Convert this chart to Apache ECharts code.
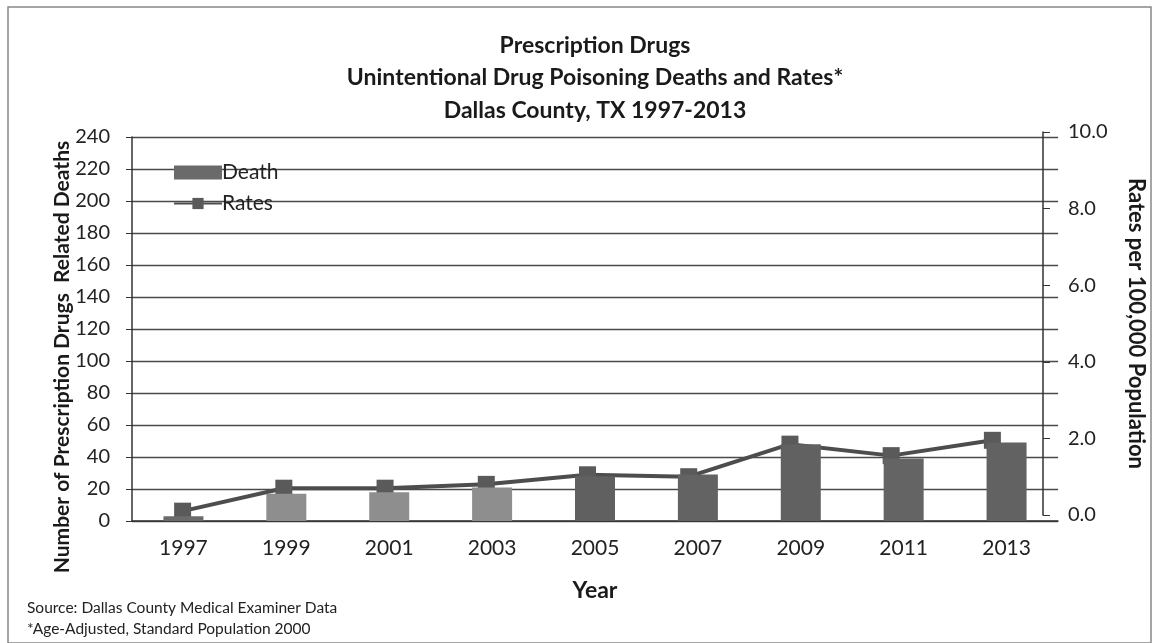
<!DOCTYPE html>
<html>
<head>
<meta charset="utf-8">
<script src="https://cdn.jsdelivr.net/npm/echarts@6/dist/echarts.min.js"></script>
<style>
  html, body { margin: 0; padding: 0; background: #fff; }
  #main { width: 1155px; height: 643px; }
</style>
</head>
<body>
<div id="main"></div>
<script>
// data
const years = ['1997', '1999', '2001', '2003', '2005', '2007', '2009', '2011', '2013'];
const deaths = [3, 17, 18, 21, 28, 29, 48, 39, 49];
const rates = [0.1, 0.7, 0.7, 0.8, 1.05, 1.0, 1.85, 1.55, 1.95];
const barColors = ['#6b6b6b', '#8e8e8e', '#8e8e8e', '#8e8e8e', '#606060', '#636363', '#616161', '#646464', '#626262'];

const leftTicks = [0, 240, 20];   // min, max, step
const rightTicks = [0, 10, 2];

const chart = echarts.init(document.getElementById('main'));

const font = 'Lato, "Open Sans", sans-serif';

const option = {
  animation: false,
  textStyle: { fontFamily: font },
  title: {
    text: 'Prescription Drugs\nUnintentional Drug Poisoning Deaths and Rates*\nDallas County, TX 1997-2013',
    left: 590,
    top: 24,
    textAlign: 'center',
    textStyle: { fontSize: 23, fontWeight: 'bold', color: '#1a1a1a', lineHeight: 32.5, fontFamily: font }
  },
  legend: {
    orient: 'vertical',
    left: 168,
    top: 157,
    itemGap: 10,
    itemWidth: 48,
    itemHeight: 14,
    textStyle: { fontSize: 21, color: '#222', padding: [0, 0, 0, -5] },
    data: [
      { name: 'Death', icon: 'rect', itemStyle: { color: '#6a6a6a' } },
      { name: 'Rates' }
    ]
  },
  grid: [
    { left: 132, right: 97, top: 137, bottom: 122 },
    { left: 132, right: 97, top: 132, bottom: 128 }
  ],
  xAxis: [
    {
      type: 'category',
      gridIndex: 0,
      data: years,
      name: 'Year',
      nameLocation: 'middle',
      nameGap: 58,
      nameTextStyle: { fontSize: 23, fontWeight: 'bold', color: '#1a1a1a' },
      axisLine: { lineStyle: { color: '#333', width: 1.5 } },
      axisTick: { length: 7, lineStyle: { color: '#333' } },
      axisLabel: { fontSize: 21, color: '#222', margin: 17 }
    },
    {
      type: 'category',
      gridIndex: 1,
      data: years,
      show: false
    }
  ],
  yAxis: [
    {
      type: 'value',
      gridIndex: 0,
      min: leftTicks[0],
      max: leftTicks[1],
      interval: leftTicks[2],
      axisLine: { show: true, lineStyle: { color: '#333', width: 1.5 } },
      axisTick: { show: true, length: 6, lineStyle: { color: '#333' } },
      axisLabel: { fontSize: 20, color: '#222', margin: 22 },
      splitLine: { lineStyle: { color: '#4a4a4a', width: 1.3 } }
    },
    {
      type: 'value',
      gridIndex: 1,
      position: 'right',
      min: rightTicks[0],
      max: rightTicks[1],
      interval: rightTicks[2],
      name: 'Rates per 100,000 Population',
      nameLocation: 'middle',
      nameRotate: -90,
      nameGap: 82,
      nameTextStyle: { fontSize: 22, fontWeight: 'bold', color: '#1a1a1a' },
      axisLine: { show: true, lineStyle: { color: '#333', width: 1.5 } },
      axisTick: { show: true, length: 7, lineStyle: { color: '#333' } },
      axisLabel: { fontSize: 20, color: '#222', margin: 25, formatter: v => v.toFixed(1) },
      splitLine: { show: false }
    }
  ],
  series: [
    {
      name: 'Death',
      type: 'bar',
      xAxisIndex: 0,
      yAxisIndex: 0,
      barWidth: 40,
      z: 3,
      data: deaths.map((v, i) => ({ value: v, itemStyle: { color: barColors[i] } })),
      itemStyle: { color: '#6a6a6a' }
    },
    {
      name: 'Rates',
      type: 'line',
      xAxisIndex: 1,
      yAxisIndex: 1,
      z: 2,
      data: rates,
      symbol: 'rect',
      symbolSize: 17,
      lineStyle: { color: '#4d4d4d', width: 4 },
      itemStyle: { color: '#5a5a5a' }
    }
  ],
  graphic: [
    {
      type: 'rect',
      shape: { x: 8, y: 7, width: 1143, height: 636 },
      style: { fill: 'none', stroke: '#888', lineWidth: 1.5 },
      silent: true
    },
    {
      // left axis title, placed by hand since it sits a bit below the plot centre
      type: 'text',
      x: 62,
      y: 357,
      rotation: Math.PI / 2,
      style: {
        text: 'Number of Prescription Drugs  Related Deaths',
        fontSize: 21,
        fontWeight: 'bold',
        fill: '#1a1a1a',
        fontFamily: font,
        align: 'center',
        verticalAlign: 'middle'
      }
    },
    {
      type: 'text',
      left: 27,
      top: 597,
      style: {
        text: 'Source: Dallas County Medical Examiner Data\n*Age-Adjusted, Standard Population 2000',
        fontSize: 15.5,
        lineHeight: 21,
        fill: '#222',
        fontFamily: font
      }
    }
  ]
};

chart.setOption(option);
</script>
</body>
</html>
